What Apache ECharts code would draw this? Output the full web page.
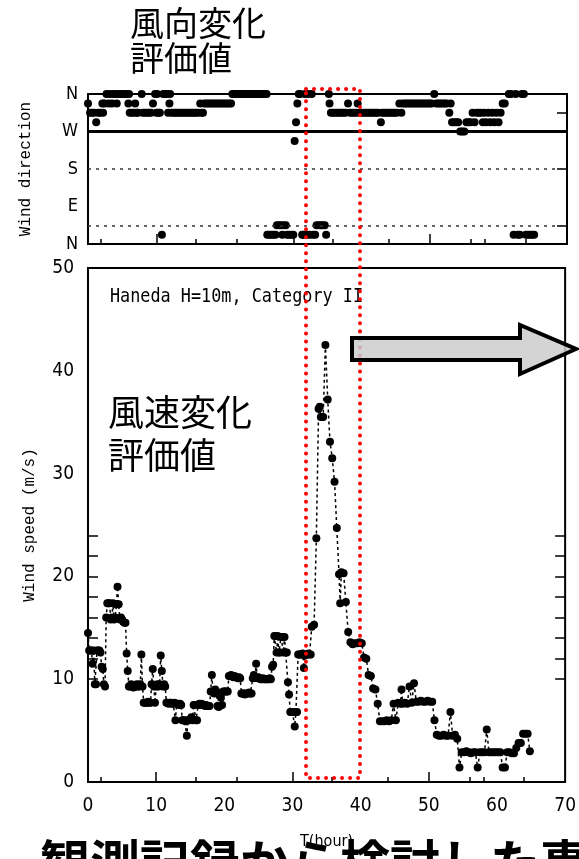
<!DOCTYPE html>
<html>
<head>
<meta charset="utf-8">
<script src="https://cdn.jsdelivr.net/npm/echarts@6/dist/echarts.min.js"></script>
<style>
html,body{margin:0;padding:0;background:#fff;}
#chart{width:579px;height:859px;}
</style>
</head>
<body>
<div id="chart"></div>
<script>
// ---- data ----
const xTickLabels = [0, 10, 20, 30, 40, 50, 60, 70];
const xLongTicks = [10, 30, 50];
const xShortTicks = [1.8, 15.8, 21.8, 35.8, 44, 56, 58, 64];
const speedTickLabels = [0, 10, 20, 30, 40, 50];
const speedTicks = [10, 12, 14, 16, 18, 20, 22, 24];
const dirTickValues = [0, 90, 180, 270, 360];
const dirTickLabels = ['N', 'E', 'S', 'W', 'N'];
const dirRightTicks = [45, 180, 315];
const dirSolidLine = [270];
const dirDottedLines = [180, 45];

const speedData = [
 [0,14.5],[0.17,12.8],[0.33,12.8],[0.5,12.8],[0.67,11.5],[0.83,12.8],[1.0,9.5],[1.17,9.5],[1.33,12.8],[1.5,12.8],
 [1.67,12.8],[1.83,12.6],[2.0,11.2],[2.17,11.0],[2.33,9.5],[2.5,9.3],[2.67,16.0],[2.83,17.4],[3.0,17.4],[3.17,17.4],
 [3.33,15.8],[3.5,16.0],[3.67,17.4],[3.83,15.8],[4.0,16.0],[4.17,17.3],[4.33,19.0],[4.5,17.3],[4.67,15.8],[4.83,16.0],
 [5.0,15.8],[5.17,15.6],[5.33,15.5],[5.5,15.5],[5.67,12.5],[5.83,10.8],[6.0,9.3],[6.17,9.3],[6.33,9.5],[6.5,9.3],
 [6.67,9.2],[6.83,9.3],[7.0,9.3],[7.17,9.5],[7.33,9.3],[7.5,9.3],[7.67,9.5],[7.83,12.4],[8.0,9.3],[8.17,7.7],
 [8.33,7.7],[8.5,7.7],[8.67,7.7],[8.83,7.8],[9.0,7.7],[9.17,7.7],[9.33,9.5],[9.5,11.0],[9.67,9.3],[9.83,7.7],
 [10.0,9.3],[10.17,9.5],[10.33,9.3],[10.5,9.5],[10.67,12.3],[10.83,10.8],[11.0,9.3],[11.17,9.5],[11.33,9.3],[11.5,7.7],
 [11.67,7.7],[11.83,7.6],[12.0,7.7],[12.17,7.7],[12.33,7.6],[12.5,7.6],[12.67,7.7],[12.83,6.0],[13.0,7.6],[13.17,7.6],
 [13.33,7.5],[13.5,7.6],[13.67,7.5],[13.83,6.0],[14.0,6.0],[14.17,6.0],[14.33,5.9],[14.5,4.5],[14.67,6.0],[14.83,6.0],
 [15.0,6.1],[15.17,6.3],[15.33,6.0],[15.5,7.5],[15.67,7.5],[15.83,6.0],[16.0,6.0],[16.17,7.5],[16.33,7.6],[16.5,7.5],
 [16.67,7.6],[16.83,7.5],[17.0,7.5],[17.17,7.4],[17.33,7.5],[17.5,7.4],[17.67,7.4],[17.83,7.4],[18.0,8.8],[18.17,10.4],
 [18.33,8.8],[18.5,8.6],[18.67,9.0],[18.83,8.8],[19.0,7.4],[19.17,7.3],[19.33,7.4],[19.5,8.2],[19.67,7.5],[19.83,8.8],
 [20.0,8.8],[20.17,8.8],[20.33,8.8],[20.5,8.8],[20.67,10.3],[20.83,10.3],[21.0,10.4],[21.17,10.3],[21.33,10.2],[21.5,10.3],
 [21.67,10.2],[21.83,10.2],[22.0,10.1],[22.17,10.2],[22.33,10.1],[22.5,8.6],[22.67,8.6],[22.83,8.6],[23.0,8.5],[23.17,8.6],
 [23.33,8.6],[23.5,8.6],[23.67,8.7],[23.83,8.6],[24.0,8.6],[24.17,10.1],[24.33,10.4],[24.5,10.2],[24.67,11.5],[24.83,10.1],
 [25.0,10.2],[25.17,10.1],[25.33,10.0],[25.5,10.0],[25.67,10.1],[25.83,10.0],[26.0,10.0],[26.17,10.0],[26.33,10.0],[26.5,10.0],
 [26.67,10.1],[26.83,10.0],[27.0,11.2],[27.17,11.4],[27.33,14.2],[27.5,14.2],[27.67,12.6],[27.83,14.2],[28.0,12.6],[28.17,12.6],
 [28.33,14.1],[28.5,14.1],[28.67,12.6],[28.83,14.1],[29.0,12.6],[29.17,12.6],[29.33,9.7],[29.5,8.5],[29.67,6.8],[29.83,6.8],
 [30.0,6.8],[30.17,6.8],[30.33,5.4],[30.5,6.8],[30.67,6.8],[30.83,12.4],[31.0,12.4],[31.17,12.4],[31.33,12.4],[31.5,12.5],
 [31.67,11.1],[31.83,12.3],[32.0,12.4],[32.17,12.4],[32.33,12.5],[32.5,12.4],[32.67,12.4],[32.83,15.1],[33.17,15.3],[33.5,23.7],
 [33.83,36.3],[34.0,36.5],[34.17,35.5],[34.33,35.5],[34.5,35.5],[34.83,42.5],[35.17,37.2],[35.5,33.1],[35.83,31.5],[36.17,29.2],
 [36.5,24.7],[36.83,20.2],[37.0,17.4],[37.17,20.4],[37.5,20.3],[37.83,17.5],[38.17,14.6],[38.5,13.6],[38.83,13.4],[39.17,13.5],
 [39.5,13.5],[39.83,13.6],[40.17,13.5],[40.5,12.1],[40.83,12.0],[41.17,10.4],[41.5,10.3],[41.83,9.1],[42.17,9.0],[42.5,7.6],
 [42.83,5.9],[43.17,5.9],[43.5,5.9],[43.83,6.0],[44.17,5.9],[44.5,6.0],[44.83,7.6],[45.17,6.0],[45.5,7.7],[45.83,7.6],
 [46.0,9.0],[46.17,7.6],[46.5,7.7],[46.83,7.6],[47.17,9.3],[47.5,7.7],[47.83,9.6],[48.17,7.8],[48.5,7.8],[48.83,7.9],
 [49.17,7.8],[49.5,7.8],[49.83,7.9],[50.17,7.8],[50.5,7.8],[50.83,6.0],[51.17,4.6],[51.5,4.5],[51.83,4.5],[52.17,4.6],
 [52.5,4.5],[52.83,4.5],[53.17,6.8],[53.5,4.5],[53.83,4.6],[54.17,4.2],[54.5,1.4],[54.83,2.9],[55.17,2.9],[55.5,3.0],
 [55.83,2.9],[56.17,2.8],[56.5,2.9],[56.83,2.9],[57.17,1.4],[57.5,2.9],[57.83,2.9],[58.17,2.9],[58.5,5.1],[58.83,2.9],
 [59.17,2.9],[59.5,2.9],[59.83,2.9],[60.17,2.9],[60.5,2.9],[60.83,1.4],[61.17,1.4],[61.5,2.9],[61.83,2.9],[62.17,2.8],
 [62.5,2.8],[62.83,3.3],[63.17,3.8],[63.5,3.8],[63.83,4.7],[64.17,4.7],[64.5,4.7],[64.83,3.0]
];

const dirData = [
 [0,337.5],[0.3,315],[0.6,315],[0.9,315],[1.2,292.5],[1.5,315],[1.8,315],[2.1,337.5],[2.2,315],[2.4,337.5],
 [2.7,360],[3.0,337.5],[3.2,360],[3.5,337.5],[3.7,360],[4.0,360],[4.2,337.5],[4.4,360],[4.7,360],[5.0,360],
 [5.3,360],[5.6,360],[5.9,337.5],[6.0,360],[6.1,315],[6.4,315],[6.7,315],[6.9,337.5],[7.1,315],[7.3,315],
 [7.85,360],[8.0,315],[8.3,315],[8.6,315],[8.9,315],[9.2,315],[9.5,337.5],[9.8,360],[10.0,315],[10.1,360],
 [10.3,315],[10.5,315],[10.8,22.5],[11.0,360],[11.3,360],[11.6,360],[11.7,315],[11.9,337.5],[12.0,360],[12.2,315],
 [12.5,315],[12.8,315],[13.1,315],[13.4,315],[13.7,315],[14.0,315],[14.3,315],[14.6,315],[14.9,315],[15.2,315],
 [15.5,315],[15.8,315],[16.1,315],[16.4,337.5],[16.6,315],[16.8,315],[17.0,337.5],[17.3,337.5],[17.6,337.5],[17.9,337.5],
 [18.2,337.5],[18.5,337.5],[18.8,337.5],[19.1,337.5],[19.4,337.5],[19.7,337.5],[20.0,337.5],[20.3,337.5],[20.6,337.5],[20.9,337.5],
 [21.1,360],[21.4,360],[21.7,360],[22.0,360],[22.3,360],[22.6,360],[22.9,360],[23.2,360],[23.5,360],[23.8,360],
 [24.1,360],[24.4,360],[24.7,360],[25.0,360],[25.3,360],[25.6,360],[25.9,360],[26.1,360],[26.2,22.5],[26.5,22.5],
 [26.8,22.5],[27.1,22.5],[27.4,22.5],[27.6,45],[27.9,45],[28.2,45],[28.4,22.5],[28.6,45],[28.9,45],[29.1,22.5],
 [29.4,22.5],[29.7,22.5],[30.0,22.5],[30.2,247.5],[30.4,292.5],[30.6,337.5],[30.8,360],[31.0,360],[31.3,22.5],[31.5,22.5],
 [31.7,360],[32.0,22.5],[32.2,360],[32.4,22.5],[32.7,360],[32.9,22.5],[33.2,22.5],[33.4,45],[33.7,45],[34.0,45],
 [34.3,45],[34.6,45],[34.8,22.5],[35.2,360],[35.3,337.5],[35.5,315],[35.8,315],[36.1,315],[36.4,315],[36.7,315],
 [37.0,315],[37.3,315],[37.6,315],[38.0,337.5],[38.3,315],[38.6,315],[38.9,315],[39.2,315],[39.4,337.5],[39.7,315],
 [40.0,315],[40.3,315],[40.6,315],[40.9,315],[41.2,315],[41.5,315],[41.8,315],[42.1,315],[42.4,315],[42.8,292.5],
 [43.0,315],[43.3,315],[43.6,315],[43.9,315],[44.2,315],[44.5,315],[44.8,315],[45.1,315],[45.5,337.5],[45.8,315],
 [46.0,337.5],[46.3,337.5],[46.6,337.5],[46.9,337.5],[47.2,337.5],[47.5,337.5],[47.8,337.5],[48.1,337.5],[48.4,337.5],[48.7,337.5],
 [49.0,337.5],[49.3,337.5],[49.6,337.5],[49.9,337.5],[50.2,337.5],[50.6,360],[50.9,337.5],[51.2,337.5],[51.5,337.5],[51.8,337.5],
 [52.1,337.5],[52.4,337.5],[52.8,315],[53.0,337.5],[53.2,292.5],[53.5,292.5],[53.8,292.5],[54.1,292.5],[54.4,270],[54.7,270],
 [55.0,270],[55.3,292.5],[55.6,292.5],[55.9,292.5],[56.2,315],[56.5,292.5],[56.8,315],[57.1,315],[57.4,315],[57.7,292.5],
 [57.9,315],[58.2,292.5],[58.5,315],[58.8,292.5],[59.1,315],[59.4,292.5],[59.7,315],[60.0,292.5],[60.3,315],[60.6,337.5],
 [60.9,337.5],[61.5,360],[61.8,360],[62.2,22.5],[62.5,360],[62.8,22.5],[63.1,22.5],[63.4,360],[63.7,360],[64.0,22.5],
 [64.3,22.5],[64.6,22.5],[64.9,22.5],[65.2,22.5]
];

// ---- styling ----
const NARROW = "'Liberation Sans Narrow','DejaVu Sans Condensed','Liberation Sans',sans-serif";
const MONO = "'Liberation Mono','DejaVu Sans Mono',monospace";
const CJK = "'Noto Sans CJK JP','Noto Sans CJK SC',sans-serif";

const chart = echarts.init(document.getElementById('chart'), null, {renderer: 'canvas'});

function xAxisBase(grid, ticks, len, showLabel, name) {
  return {
    type: 'value', gridIndex: grid, min: 0, max: 70, position: 'bottom', z: 10,
    axisLine: {show: false, onZero: false},
    splitLine: {show: false},
    axisTick: {show: true, inside: true, length: len, customValues: ticks,
      lineStyle: {color: '#000', width: 1.5}},
    axisLabel: {show: showLabel, customValues: xTickLabels, margin: 15,
      fontFamily: NARROW, fontSize: 19, color: '#000'},
    name: name || '', nameLocation: 'middle', nameGap: 52,
    nameTextStyle: {fontFamily: NARROW, fontSize: 16, color: '#000'}
  };
}

const option = {
  backgroundColor: '#fff',
  animation: false,
  grid: [
    {left: 88, top: 94, width: 479, height: 150, show: true, borderColor: '#000', borderWidth: 2, backgroundColor: 'transparent'},
    {left: 88, top: 268, width: 479, height: 514, show: true, borderColor: '#000', borderWidth: 2, backgroundColor: 'transparent'}
  ],
  xAxis: [
    xAxisBase(0, xLongTicks, 10, false),
    xAxisBase(0, xShortTicks, 5, false),
    xAxisBase(1, xLongTicks, 10, true, 'T(hour)'),
    xAxisBase(1, xShortTicks, 5, false)
  ],
  yAxis: [
    {
      type: 'value', gridIndex: 0, min: 0, max: 360, interval: 90, position: 'left',
      axisLine: {show: false, onZero: false}, splitLine: {show: false},
      axisTick: {show: false},
      axisLabel: {margin: 10, fontFamily: NARROW, fontSize: 18, color: '#000',
        formatter: v => dirTickLabels[dirTickValues.indexOf(v)]},
      name: 'Wind direction', nameLocation: 'middle', nameGap: 54, nameRotate: 90,
      nameTextStyle: {fontFamily: MONO, fontSize: 16, color: '#000'}
    },
    {
      type: 'value', gridIndex: 0, min: 0, max: 360, position: 'right',
      axisLine: {show: false, onZero: false}, splitLine: {show: false},
      axisLabel: {show: false},
      axisTick: {show: true, inside: true, length: 10, customValues: dirRightTicks, lineStyle: {color: '#000', width: 1.5}}
    },
    {
      type: 'value', gridIndex: 1, min: 0, max: 50, interval: 10, position: 'left',
      axisLine: {show: false, onZero: false}, splitLine: {show: false},
      axisTick: {show: true, inside: true, length: 10, customValues: speedTicks, lineStyle: {color: '#000', width: 1.5}},
      axisLabel: {customValues: speedTickLabels, margin: 14, fontFamily: NARROW, fontSize: 19, color: '#000'},
      name: 'Wind speed (m/s)', nameLocation: 'middle', nameGap: 50, nameRotate: 90,
      nameTextStyle: {fontFamily: MONO, fontSize: 16, color: '#000'}
    },
    {
      type: 'value', gridIndex: 1, min: 0, max: 50, position: 'right',
      axisLine: {show: false, onZero: false}, splitLine: {show: false},
      axisLabel: {show: false},
      axisTick: {show: true, inside: true, length: 10, customValues: speedTicks, lineStyle: {color: '#000', width: 1.5}}
    }
  ],
  series: [
    {
      type: 'scatter', xAxisIndex: 0, yAxisIndex: 0, data: dirData,
      symbol: 'circle', symbolSize: 8, itemStyle: {color: '#000', opacity: 1}, z: 3,
      markLine: {
        silent: true, symbol: 'none', label: {show: false},
        data: [
          {yAxis: dirSolidLine[0], lineStyle: {type: 'solid', width: 3, color: '#000'}},
          {yAxis: dirDottedLines[0], lineStyle: {type: [3, 5], width: 1.5, color: '#333'}},
          {yAxis: dirDottedLines[1], lineStyle: {type: [3, 5], width: 1.5, color: '#333'}}
        ]
      }
    },
    {
      type: 'line', xAxisIndex: 2, yAxisIndex: 2, data: speedData,
      symbol: 'circle', symbolSize: 8, showSymbol: true,
      itemStyle: {color: '#000', opacity: 1},
      lineStyle: {color: '#000', width: 1.5, type: [3, 3]}, z: 3
    }
  ],
  graphic: [
    {type: 'text', x: 40, y: 838, z: -1,
      style: {text: '観測記録から検討した事例', font: 'bold 50px ' + CJK, fill: '#000'}},
    {type: 'text', x: 130, y: 6, z: 10,
      style: {text: '風向変化\n評価値', font: '34px ' + CJK, fill: '#000', lineHeight: 35}},
    {type: 'text', x: 108, y: 391, z: 10,
      style: {text: '風速変化\n評価値', font: '36px ' + CJK, fill: '#000', lineHeight: 43}},
    {type: 'text', x: 110, y: 288, scaleX: 0.885, z: 10,
      style: {text: 'Haneda H=10m, Category II', font: '19px ' + "'DejaVu Sans Mono',monospace", fill: '#000'}},
    {type: 'rect', z: 20,
      shape: {x: 306, y: 89, width: 54, height: 689},
      style: {fill: 'none', stroke: '#ff0000', lineWidth: 4, lineDash: [0.01, 8], lineCap: 'round'}},
    {type: 'polygon', z: 21,
      shape: {points: [[352, 338], [520, 338], [520, 325], [576, 349], [520, 374], [520, 360], [352, 360]]},
      style: {fill: 'rgba(205,205,205,0.85)', stroke: '#000', lineWidth: 4, lineJoin: 'miter'}}
  ]
};
chart.setOption(option);
</script>
</body>
</html>
